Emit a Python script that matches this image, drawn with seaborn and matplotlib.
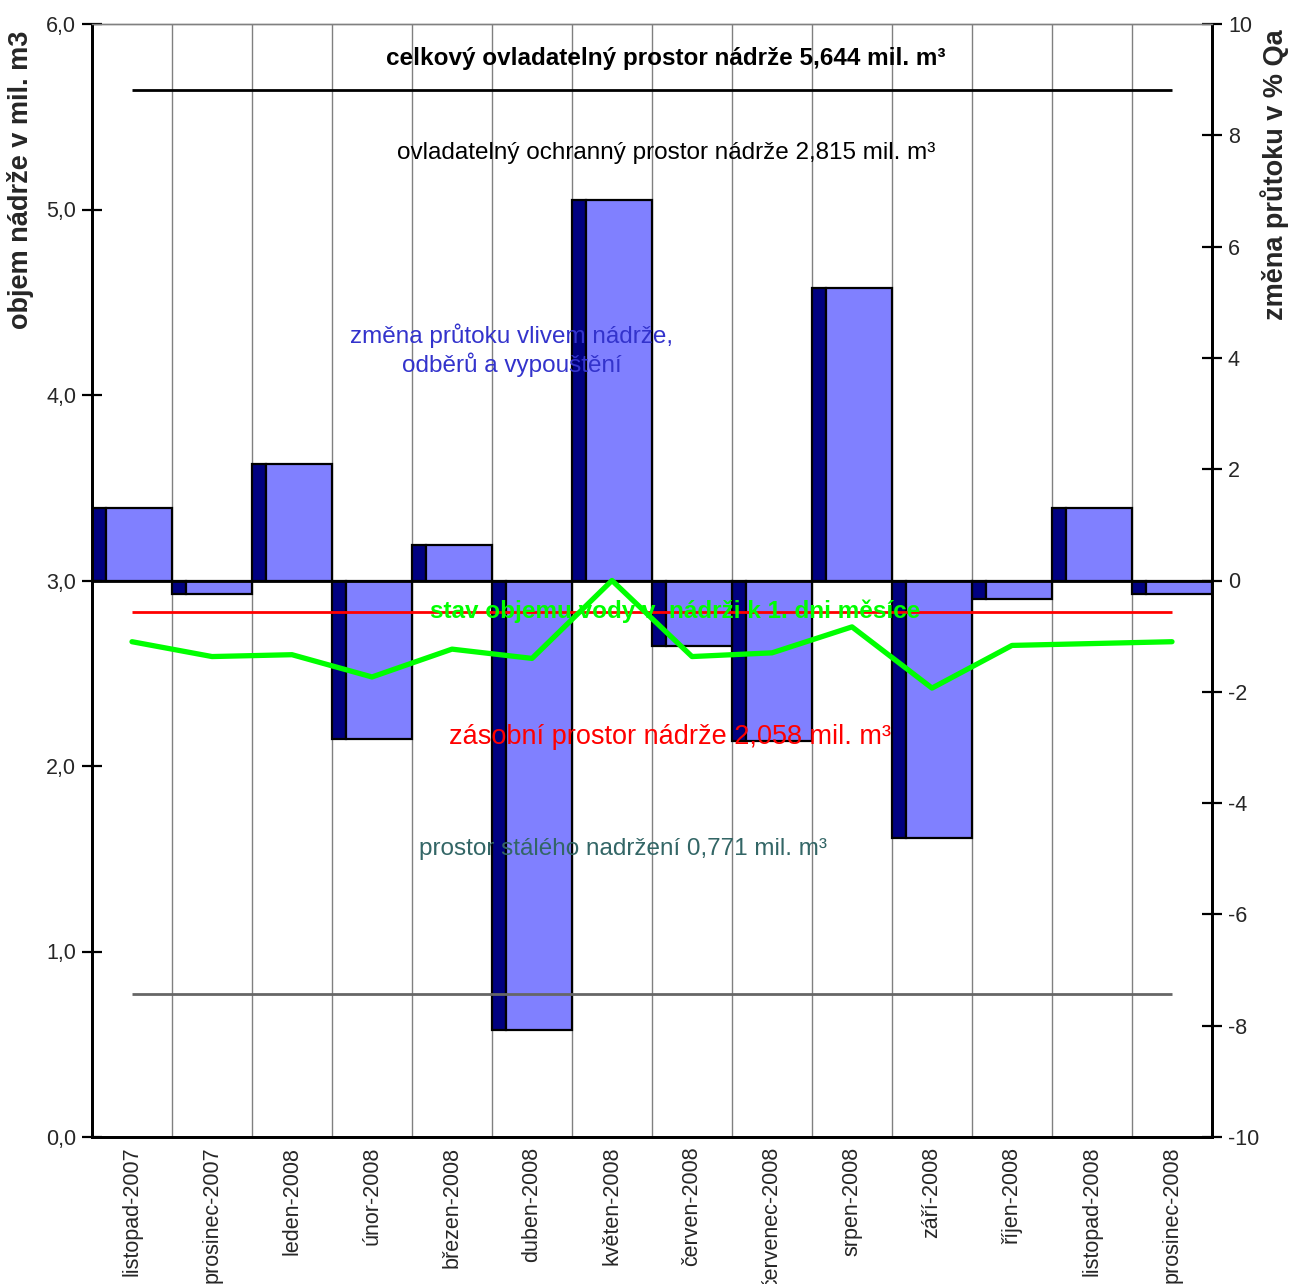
import numpy as np
import matplotlib
matplotlib.use("Agg")
import matplotlib.pyplot as plt
import seaborn as sns
import pandas as pd

# data
months = ["listopad-2007", "prosinec-2007", "leden-2008", "únor-2008", "březen-2008",
          "duben-2008", "květen-2008", "červen-2008", "červenec-2008", "srpen-2008",
          "září-2008", "říjen-2008", "listopad-2008", "prosinec-2008"]
flow_change = [1.31, -0.25, 2.10, -2.84, 0.63, -8.08, 6.83, -1.17, -2.88, 5.25,
               -4.62, -0.34, 1.31, -0.25]
volume = [2.67, 2.59, 2.60, 2.48, 2.63, 2.58, 3.00, 2.59, 2.61, 2.75,
          2.42, 2.65, 2.66, 2.67]
total_space = 5.644
storage_level = 2.829
dead_space = 0.771

sns.set_theme(style="white")
plt.rcParams['font.family'] = ['Liberation Sans', 'DejaVu Sans']

df = pd.DataFrame({"month": months, "flow": flow_change, "volume": volume})
df["pos"] = np.arange(len(df))
n = len(df)

fig = plt.figure(figsize=(12.89, 12.84), dpi=100)
ax = fig.add_axes([92 / 1289, 1 - 1137 / 1284, 1120 / 1289, 1113 / 1284])
ax2 = ax.twinx()

# bars on the right axis, drawn underneath
ax.set_zorder(ax2.get_zorder() + 1)
ax.patch.set_visible(False)
ax2.patch.set_facecolor("white")

for b in np.arange(n + 1) - 0.5:
    ax2.axvline(b, color="#808080", lw=1, zorder=0)
ax2.bar(df["pos"] - 0.5, df["flow"], width=0.175, align="edge",
        color="#000080", edgecolor="black", linewidth=1.6, zorder=2)
ax2.bar(df["pos"] - 0.325, df["flow"], width=0.825, align="edge",
        color="#8080ff", edgecolor="black", linewidth=1.6, zorder=3)
ax2.axhline(0, color="black", lw=2, zorder=4)

# level lines and the volume line on the left axis
ax.hlines(total_space, 0, n - 1, color="black", lw=2)
ax.hlines(storage_level, 0, n - 1, color="#ff0000", lw=2)
ax.hlines(dead_space, 0, n - 1, color="#666666", lw=2)
sns.lineplot(data=df, x="pos", y="volume", ax=ax, color="#00ff00", lw=3.8)

ax.set_xlim(-0.5, n - 0.5)
ax.set_ylim(0, 6)
ax2.set_ylim(-10, 10)

ax.set_xticks(np.arange(n + 1) - 0.5)
ax.set_xticklabels([])
ax.set_xticks(df["pos"], minor=True)
ax.set_xticklabels(df["month"], minor=True, rotation=90, fontsize=15.5)
ax.tick_params(axis="x", which="major", direction="inout", length=11, width=1.6, color="black")
ax.tick_params(axis="x", which="minor", length=0, pad=7)

ax.set_yticks(np.arange(0, 7, 1))
ax.set_yticklabels([f"{v:.1f}".replace(".", ",") for v in np.arange(0, 7, 1)], fontsize=15.5)
ax.tick_params(axis="y", direction="inout", length=15, width=1.6, color="black", pad=4)
ax2.set_yticks(np.arange(-10, 11, 2))
ax2.set_yticklabels([str(v) for v in range(-10, 11, 2)], fontsize=15.5)
ax2.tick_params(axis="y", direction="inout", length=15, width=1.6, color="black", pad=4)

for a in (ax, ax2):
    for s in ("left", "right", "bottom"):
        a.spines[s].set_color("black")
        a.spines[s].set_linewidth(2)
    a.spines["top"].set_color("#808080")
    a.spines["top"].set_linewidth(1)

ax.set_xlabel("")
ax.set_ylabel("objem nádrže v mil. m3", fontsize=19.5, fontweight="bold")
ax.yaxis.set_label_coords(-0.052, 0.86)
ax2.set_ylabel("změna průtoku v % Qa", fontsize=19.5, fontweight="bold")
ax2.yaxis.set_label_coords(1.043, 0.865)

# annotations
ax.text(0.5125, 0.9694, "celkový ovladatelný prostor nádrže 5,644 mil. m³", transform=ax.transAxes,
        ha="center", va="center", fontsize=17.5, fontweight="bold", color="black")
ax.text(0.513, 0.884, "ovladatelný ochranný prostor nádrže 2,815 mil. m³", transform=ax.transAxes,
        ha="center", va="center", fontsize=17.5, color="black")
ax.text(0.375, 0.707, "změna průtoku vlivem nádrže,\nodběrů a vypouštění", transform=ax.transAxes,
        ha="center", va="center", fontsize=17.5, color="#3333cc", linespacing=1.25)
ax.text(0.521, 0.4726, "stav objemu vody v  nádrži k 1. dni měsíce", transform=ax.transAxes,
        ha="center", va="center", fontsize=17.5, fontweight="bold", color="#00ff00")
ax.text(0.516, 0.3594, "zásobní prostor nádrže 2,058 mil. m³", transform=ax.transAxes,
        ha="center", va="center", fontsize=19.5, color="#ff0000")
ax.text(0.474, 0.2588, "prostor stálého nadržení 0,771 mil. m³", transform=ax.transAxes,
        ha="center", va="center", fontsize=17.5, color="#336666")

fig.savefig("out.png", dpi=100)
